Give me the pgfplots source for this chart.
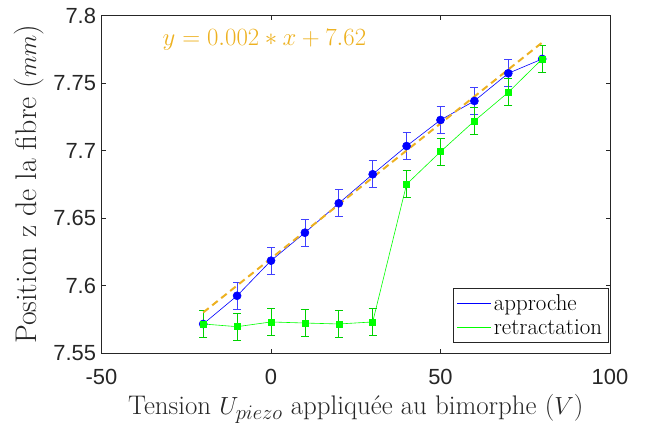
\documentclass[border=0pt]{standalone}
\usepackage{fontspec}
\usepackage{pgfplots}
\pgfplotsset{compat=1.18}
\newfontfamily\ticksf{Liberation Sans}
\DeclareMathSizes{23}{23}{17}{13}
\DeclareMathSizes{27}{27}{21.6}{16}
\DeclareMathSizes{30}{30}{23}{18}
\definecolor{mborange}{RGB}{237,177,32}
\definecolor{mgreen}{RGB}{0,255,0}
\definecolor{axgray}{RGB}{38,38,38}
\begin{document}
\begin{tikzpicture}
\begin{axis}[
  width=508.5bp, height=337.5bp, scale only axis,
  xmin=-50, xmax=100, ymin=7.55, ymax=7.8,
  xtick={-50,0,50,100}, xticklabels={-50,0,50,100},
  ytick={7.55,7.6,7.65,7.7,7.75,7.8},
  yticklabels={7.55,7.6,7.65,7.7,7.75,7.8},
  tick align=inside, major tick length=4.5bp,
  axis line style={axgray, line width=0.6bp},
  every tick/.style={axgray, line width=0.6bp},
  tick label style={font=\fontsize{22}{26}\ticksf, text=axgray},
  xticklabel style={yshift=-13bp},
  yticklabel style={xshift=-2bp},
  xlabel={Tension $U_{piezo}$ appliquée au bimorphe ($V$)},
  ylabel={Position z de la fibre ($mm$)},
  xlabel style={font=\fontsize{27}{32}\selectfont, text=axgray, yshift=-2bp},
  ylabel style={font=\fontsize{30}{36}\selectfont, text=axgray, yshift=3bp},
  legend style={at={(0.9967,0.0317)}, anchor=south east, draw=axgray, line width=0.6bp,
    font=\fontsize{23}{27}\selectfont, inner xsep=4bp, inner ysep=4bp, row sep=4bp,
    nodes={inner sep=2bp}},
  legend cell align=left,
  legend image code/.code={\draw[#1] (6bp,0bp) -- (40bp,0bp);},
  clip=false,
]
\addlegendimage{blue, line width=0.8bp}
\addlegendentry{approche}
\addlegendimage{mgreen, line width=0.8bp}
\addlegendentry{retractation}

\addplot[forget plot, blue, line width=0.6bp, mark=*, mark size=4bp,
  mark options={fill=blue, draw=blue},
  error bars/.cd, y dir=both, y explicit,
  error bar style={blue!75, line width=0.8bp},
  error mark options={rotate=90, mark size=4bp, blue!75, line width=0.8bp}]
coordinates {
(-20,7.5715) +- (0,0.01)
(-10,7.5924) +- (0,0.01)
(0,7.6184) +- (0,0.01)
(10,7.6391) +- (0,0.01)
(20,7.6609) +- (0,0.01)
(30,7.6824) +- (0,0.01)
(40,7.7033) +- (0,0.01)
(50,7.7226) +- (0,0.01)
(60,7.7367) +- (0,0.01)
(70,7.7572) +- (0,0.01)
(80,7.7678) +- (0,0.01)
};

\addplot[forget plot, mgreen, line width=0.6bp, mark=square*, mark size=3bp,
  mark options={fill=mgreen, draw=mgreen},
  error bars/.cd, y dir=both, y explicit,
  error bar style={green!70!black!60!mgreen, line width=0.8bp},
  error mark options={rotate=90, mark size=4bp, green!70!black!60!mgreen, line width=0.8bp}]
coordinates {
(-20,7.5715) +- (0,0.01)
(-10,7.5695) +- (0,0.01)
(0,7.5730) +- (0,0.01)
(10,7.5722) +- (0,0.01)
(20,7.5715) +- (0,0.01)
(30,7.5730) +- (0,0.01)
(40,7.6750) +- (0,0.01)
(50,7.6991) +- (0,0.01)
(60,7.7219) +- (0,0.01)
(70,7.7431) +- (0,0.01)
(80,7.7678) +- (0,0.01)
};

\addplot[forget plot, mborange, line width=2bp, dash pattern=on 7bp off 4.5bp]
coordinates {(-20,7.58) (80,7.78)};

\node[anchor=west, text=mborange, font=\fontsize{23}{27}\selectfont, inner sep=0pt]
  at (axis cs:-32,7.782) {$y=0.002*x+7.62$};
\end{axis}
\pgfresetboundingbox
\path[use as bounding box] ([shift={(-101.5bp,-70bp)}]current axis.south west)
  rectangle ([shift={(39bp,15.5bp)}]current axis.north east);
\end{tikzpicture}
\end{document}
